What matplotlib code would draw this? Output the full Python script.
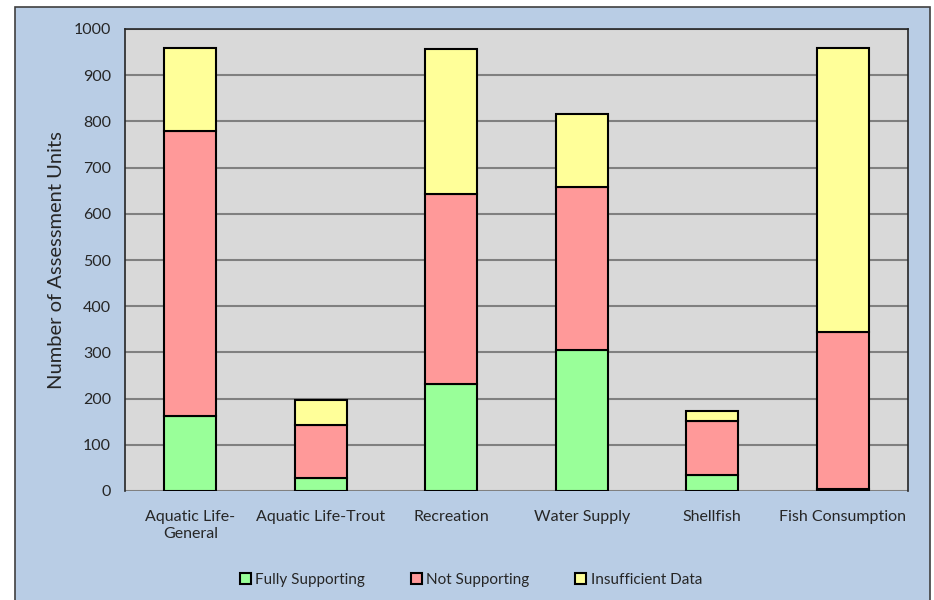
import matplotlib
matplotlib.use("Agg")
import matplotlib.pyplot as plt
from matplotlib.patches import Rectangle
import numpy as np

categories = ["Aquatic Life-\nGeneral", "Aquatic Life-Trout", "Recreation",
              "Water Supply", "Shellfish", "Fish Consumption"]
fully_supporting = [163, 28, 232, 305, 35, 5]
not_supporting = [616, 115, 410, 354, 116, 339]
insufficient_data = [180, 54, 314, 158, 22, 615]
series_names = ["Fully Supporting", "Not Supporting", "Insufficient Data"]
colors = ["#99FF99", "#FF9999", "#FFFF99"]

plt.rcParams['font.family'] = ['Lato', 'DejaVu Sans']

fig = plt.figure(figsize=(9.34, 6.0), dpi=100, facecolor="white")
bg = Rectangle((15/934, -0.01), (930-15)/934, (593)/600 + 0.01, transform=fig.transFigure,
               facecolor="#B9CDE5", edgecolor="#404040", linewidth=1.2, zorder=-10)
fig.patches.append(bg)

ax = fig.add_axes([125/934, 109/600, 783/934, 462/600])
ax.set_zorder(5)
ax.set_facecolor("#D9D9D9")
x = np.arange(len(categories))
w = 0.4
b1 = np.array(fully_supporting)
b2 = b1 + np.array(not_supporting)
ax.bar(x, fully_supporting, w, color=colors[0], edgecolor="black", linewidth=1.5, zorder=3, label=series_names[0])
ax.bar(x, not_supporting, w, bottom=b1, color=colors[1], edgecolor="black", linewidth=1.5, zorder=3, label=series_names[1])
ax.bar(x, insufficient_data, w, bottom=b2, color=colors[2], edgecolor="black", linewidth=1.5, zorder=3, label=series_names[2])

ax.set_xlim(-0.5, len(categories) - 0.5)
ax.set_ylim(0, 1000)
ax.set_yticks(np.arange(0, 1001, 100))
ax.yaxis.grid(True, color="#808080", linewidth=1.5, zorder=1)
ax.set_axisbelow(True)
ax.set_xticks(x)
ax.set_xticklabels(categories, fontsize=11.5, color="#262626", linespacing=1.25)
ax.tick_params(axis='y', labelsize=11.5, colors="#262626", length=0, pad=10)
ax.tick_params(axis='x', length=0, pad=14)
for s in ax.spines.values():
    s.set_color("#262626")
    s.set_linewidth(1.2)
ax.spines['bottom'].set_visible(False)
ax.set_ylabel("Number of Assessment Units", fontsize=14.5, color="#262626")
ax.yaxis.set_label_coords((65 - 125) / 783, 0.5)

leg = fig.legend(loc="center", bbox_to_anchor=(471/934, 1 - 580/600), ncol=3, frameon=False,
                 fontsize=11, handlelength=0.7, handleheight=0.7, handletextpad=0.3,
                 columnspacing=3.0, labelcolor="#262626")
leg.set_zorder(6)
for h in leg.legend_handles:
    h.set_linewidth(1.5)

fig.savefig("out.png", dpi=100, facecolor=fig.get_facecolor())
